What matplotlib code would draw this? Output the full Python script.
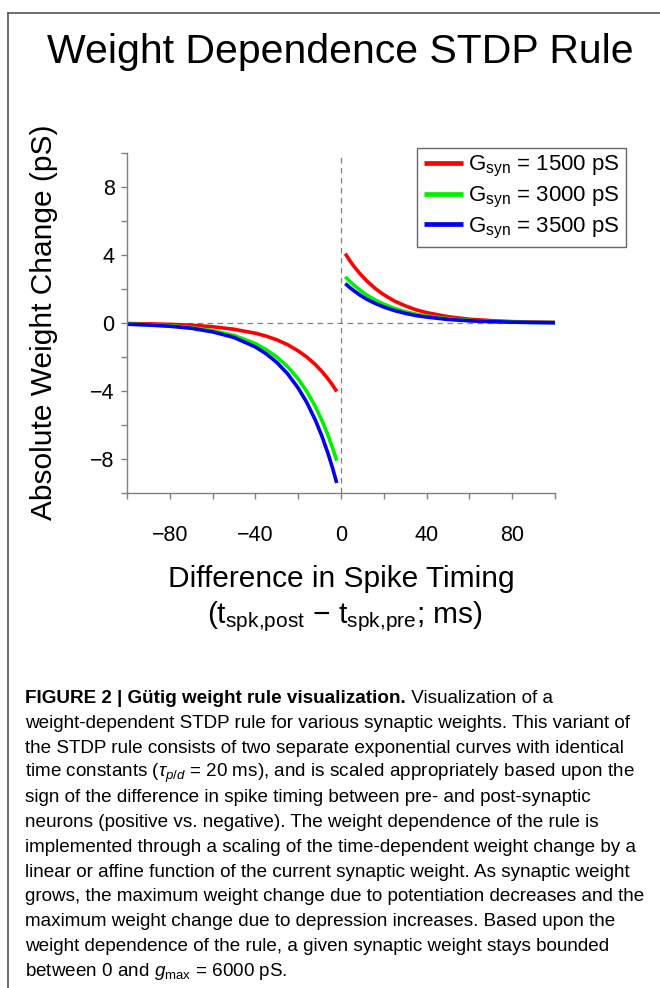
import matplotlib
matplotlib.use("Agg")
import matplotlib.pyplot as plt
from matplotlib.lines import Line2D

plt.rcParams["font.family"] = ["Liberation Sans", "DejaVu Sans"]
plt.rcParams["mathtext.fontset"] = "custom"
plt.rcParams["mathtext.rm"] = "Liberation Sans"
plt.rcParams["mathtext.it"] = "Liberation Sans:italic"
plt.rcParams["mathtext.bf"] = "Liberation Sans:bold"

# spike timing difference (ms)
dt_neg = [-100, -90, -80, -70, -60, -50, -40, -35, -30, -25, -20, -16, -12, -9, -6, -4, -2]
dt_pos = [2, 4, 6, 9, 12, 16, 20, 25, 30, 35, 40, 50, 60, 70, 80, 90, 100]

# absolute weight change (pS)
red_neg = [-0.03, -0.05, -0.08, -0.13, -0.22, -0.37, -0.60, -0.77, -0.99, -1.27,
           -1.64, -2.00, -2.44, -2.84, -3.30, -3.64, -4.03]
green_neg = [-0.06, -0.10, -0.16, -0.27, -0.45, -0.73, -1.21, -1.56, -2.00, -2.56,
             -3.29, -4.02, -4.91, -5.71, -6.63, -7.33, -8.10]
blue_neg = [-0.07, -0.12, -0.19, -0.31, -0.52, -0.85, -1.41, -1.81, -2.32, -2.98,
            -3.83, -4.67, -5.71, -6.63, -7.70, -8.51, -9.41]

red_pos = [4.08, 3.69, 3.34, 2.88, 2.48, 2.03, 1.66, 1.29, 1.01, 0.78, 0.61,
           0.37, 0.22, 0.14, 0.08, 0.05, 0.03]
green_pos = [2.72, 2.46, 2.23, 1.92, 1.65, 1.35, 1.11, 0.86, 0.67, 0.52, 0.41,
             0.25, 0.15, 0.09, 0.06, 0.03, 0.02]
blue_pos = [2.32, 2.10, 1.90, 1.63, 1.40, 1.15, 0.94, 0.73, 0.57, 0.44, 0.35,
            0.21, 0.13, 0.08, 0.05, 0.03, 0.02]

labels = [r"G$_{\mathrm{syn}}$ = 1500 pS",
          r"G$_{\mathrm{syn}}$ = 3000 pS",
          r"G$_{\mathrm{syn}}$ = 3500 pS"]
colors = ["#ff0000", "#00f000", "#0000ee"]

xticks = [-100, -80, -60, -40, -20, 0, 20, 40, 60, 80, 100]
xticklabels = ["", "\u221280", "", "\u221240", "", "0", "", "40", "", "80", ""]
yticks = [-10, -8, -6, -4, -2, 0, 2, 4, 6, 8, 10]
yticklabels = ["", "\u22128", "", "\u22124", "", "0", "", "4", "", "8", ""]

caption_bold = "FIGURE 2 | Gütig weight rule visualization."
caption_first = " Visualization of a"
caption_lines = [
    "weight-dependent STDP rule for various synaptic weights. This variant of",
    "the STDP rule consists of two separate exponential curves with identical",
    r"time constants ($\tau_{p/d}$ = 20 ms), and is scaled appropriately based upon the",
    "sign of the difference in spike timing between pre- and post-synaptic",
    "neurons (positive vs. negative). The weight dependence of the rule is",
    "implemented through a scaling of the time-dependent weight change by a",
    "linear or affine function of the current synaptic weight. As synaptic weight",
    "grows, the maximum weight change due to potentiation decreases and the",
    "maximum weight change due to depression increases. Based upon the",
    "weight dependence of the rule, a given synaptic weight stays bounded",
    r"between 0 and $g_{\mathrm{max}}$ = 6000 pS.",
]

W, H = 660, 988
fig = plt.figure(figsize=(W / 100, H / 100), dpi=100)
fig.patch.set_facecolor("white")

ax = fig.add_axes([127 / W, 1 - 493 / H, 428 / W, 340 / H])

neg_sets = [red_neg, green_neg, blue_neg]
pos_sets = [red_pos, green_pos, blue_pos]
for yn, yp, c, lab in zip(neg_sets, pos_sets, colors, labels):
    ax.plot(dt_neg, yn, color=c, linewidth=2.6, solid_capstyle="butt", label=lab)
    ax.plot(dt_pos, yp, color=c, linewidth=2.6, solid_capstyle="butt")

ax.axhline(0, color="#808080", linewidth=0.9, linestyle=(0, (4.5, 3.5)), zorder=0)
ax.axvline(0, color="#808080", linewidth=0.9, linestyle=(0, (4.5, 3.5)), zorder=0)

ax.set_xlim(-100, 100)
ax.set_ylim(-10, 10)
ax.set_xticks(xticks)
ax.set_xticklabels(xticklabels)
ax.set_yticks(yticks)
ax.set_yticklabels(yticklabels)

for side in ["top", "right"]:
    ax.spines[side].set_visible(False)
for side in ["left", "bottom"]:
    ax.spines[side].set_color("#808080")
    ax.spines[side].set_linewidth(1.0)

ax.tick_params(axis="both", direction="out", length=4, width=1.0,
               color="#808080", labelsize=15.5, labelcolor="black")
ax.tick_params(axis="x", pad=19)
ax.tick_params(axis="y", pad=5)

leg = ax.legend(loc="upper right", bbox_to_anchor=(626 / W, 1 - 148 / H),
                bbox_transform=fig.transFigure, borderaxespad=0,
                fontsize=16, frameon=True, fancybox=False,
                handlelength=1.75, handletextpad=0.25, borderpad=0.28,
                labelspacing=0.25)
leg.get_frame().set_edgecolor("#404040")
leg.get_frame().set_linewidth(1.0)
for line in leg.get_lines():
    line.set_linewidth(3.4)

fig.text(340 / W, 1 - 63 / H, "Weight Dependence STDP Rule", fontsize=29.5,
         ha="center", va="baseline")

fig.text(44 / W, 1 - 322 / H, "Absolute Weight Change (pS)", fontsize=21.5,
         rotation=90, ha="center", va="center")

fig.text(341 / W, 1 - 587 / H, "Difference in Spike Timing", fontsize=21.5,
         ha="center", va="baseline")
fig.text(345 / W, 1 - 623 / H,
         r"(t$_{\mathrm{spk{,}post}}$ $-$ t$_{\mathrm{spk{,}pre}}$; ms)",
         fontsize=21.5, ha="center", va="baseline")

# frame around the panel
fig.add_artist(Line2D([8 / W, 8 / W], [0, 1 - 13 / H], transform=fig.transFigure,
                      color="#555555", linewidth=1.2))
fig.add_artist(Line2D([8 / W, 1], [1 - 13 / H, 1 - 13 / H], transform=fig.transFigure,
                      color="#555555", linewidth=1.2))

# caption
cap_size = 13.6
x0 = 25 / W
y0 = 703
step = 24.8
t_bold = fig.text(x0, 1 - y0 / H, caption_bold, fontsize=cap_size,
                  fontweight="bold", ha="left", va="baseline")
renderer = fig.canvas.get_renderer()
bb = t_bold.get_window_extent(renderer=renderer)
fig.text(bb.x1 / W, 1 - y0 / H, caption_first, fontsize=cap_size,
         ha="left", va="baseline")
for i, line in enumerate(caption_lines):
    fig.text(x0, 1 - (y0 + step * (i + 1)) / H, line, fontsize=cap_size,
             ha="left", va="baseline")

fig.savefig("out.png", dpi=100, facecolor="white")
